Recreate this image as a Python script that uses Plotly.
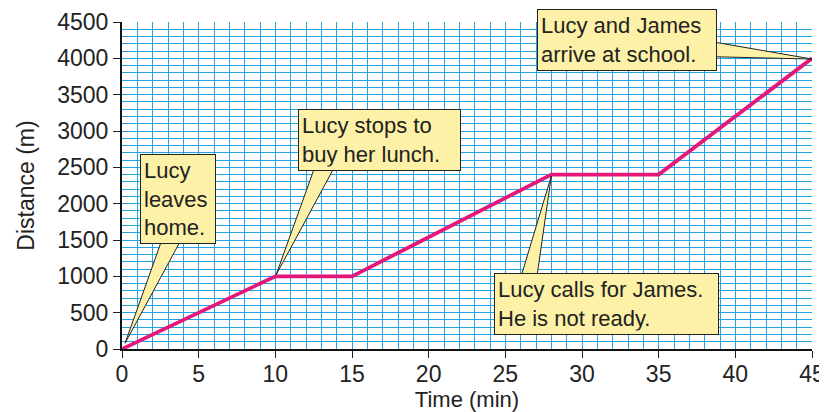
import plotly.graph_objects as go

# ---- data ----
times = [0, 10, 15, 28, 35, 45]
distances = [0, 1000, 1000, 2400, 2400, 4000]

x_ticks = [0, 5, 10, 15, 20, 25, 30, 35, 40, 45]
y_ticks = [0, 500, 1000, 1500, 2000, 2500, 3000, 3500, 4000, 4500]

callout_texts = [
    "Lucy<br>leaves<br>home.",
    "Lucy stops to<br>buy her lunch.",
    "Lucy calls for James.<br>He is not ready.",
    "Lucy and James<br>arrive at school.",
]
callout_points = [0, 1, 3, 5]          # index of the data point each callout refers to
# box anchor (time, distance) and vertical anchor
callout_box = [(1.15, 2680, "top"), (11.45, 3300, "top"), (24.25, 1040, "top"), (27.05, 3830, "bottom")]
callout_width = [68, 155, 217, 172]
# tail base (two points, inside/at box edge)
callout_base = [
    [(2.7, 1560), (4.0, 1560)],
    [(12.6, 2520), (13.9, 2520)],
    [(26.0, 980), (27.05, 980)],
    [(38.5, 4228), (38.5, 4022)],
]
tip_offset = [(0.2, 80), (0.05, 20), (0.0, -20), (0.0, -10)]

BOX = "#fcf1a6"
GRID = "#1fa3e3"
LINE = "#e5177b"
FONT = "Liberation Sans"

fig = go.Figure()

fig.add_trace(go.Scatter(
    x=times, y=distances, mode="lines",
    line=dict(color=LINE, width=3.8),
    hoverinfo="skip", showlegend=False,
))

shapes = []
annotations = []
for i, txt in enumerate(callout_texts):
    p = callout_points[i]
    tx = times[p] + tip_offset[i][0]
    ty = distances[p] + tip_offset[i][1]
    (b1x, b1y), (b2x, b2y) = callout_base[i]
    shapes.append(dict(
        type="path", xref="x", yref="y",
        path=f"M {b1x},{b1y} L {tx},{ty} L {b2x},{b2y} Z",
        fillcolor=BOX, line=dict(color="#222222", width=1), layer="above",
    ))
    bx, by, ya = callout_box[i]
    annotations.append(dict(
        x=bx, y=by, xref="x", yref="y", xanchor="left", yanchor=ya,
        text=txt, showarrow=False, align="left", width=callout_width[i],
        bgcolor=BOX, bordercolor="#222222", borderwidth=1, borderpad=3,
        font=dict(family=FONT, size=22, color="#222222"),
    ))

# page body has an 8px margin, so the figure is offset by (8, 8)
fig.update_layout(
    width=819, height=404,
    margin=dict(l=114, r=15, t=14, b=63),
    plot_bgcolor="white", paper_bgcolor="white",
    font=dict(family=FONT, size=23, color="#222222"),
    shapes=shapes, annotations=annotations,
    xaxis=dict(
        range=[0, 45], tickvals=x_ticks, ticks="outside", ticklen=7,
        tickcolor="#222222", tickwidth=1, automargin=False,
        showline=True, linecolor="#111111", linewidth=2,
        showgrid=True, gridcolor=GRID, gridwidth=1.2,
        minor=dict(dtick=1, showgrid=True, gridcolor=GRID, gridwidth=1.2),
        zeroline=False, ticklabelstandoff=-4,
        title=dict(text="Time (min)", font=dict(size=22), standoff=0),
        tickfont=dict(size=23),
    ),
    yaxis=dict(
        range=[0, 4500], tickvals=y_ticks, ticks="outside", ticklen=7,
        tickcolor="#222222", tickwidth=1, automargin=False,
        showline=True, linecolor="#111111", linewidth=2,
        showgrid=True, gridcolor=GRID, gridwidth=1.2,
        minor=dict(dtick=100, showgrid=True, gridcolor=GRID, gridwidth=1.2),
        zeroline=False,
        title=dict(text="Distance (m)", font=dict(size=23), standoff=16),
        tickfont=dict(size=23),
    ),
)

fig.write_html("out.html")
